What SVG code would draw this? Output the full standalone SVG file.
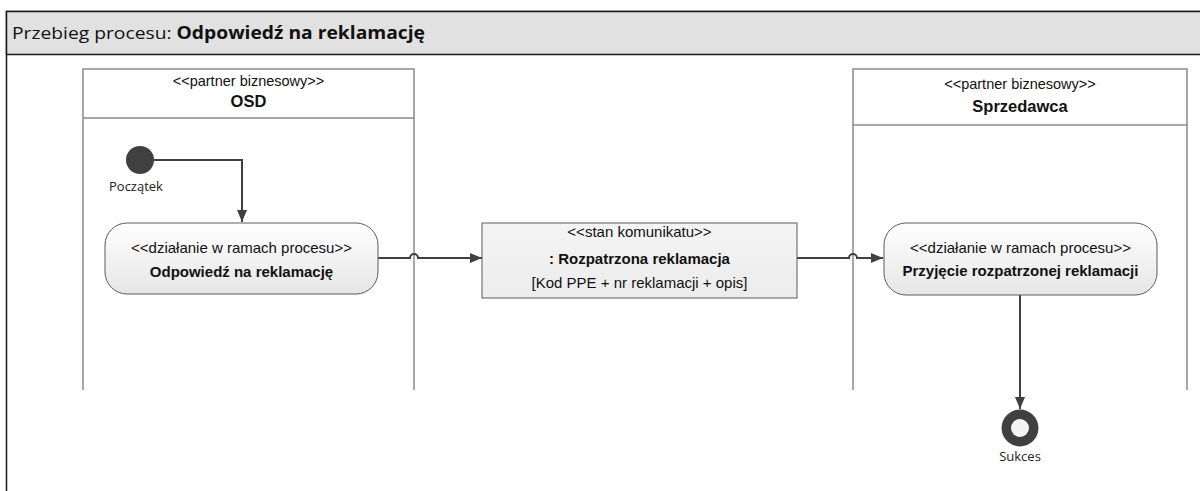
<svg xmlns="http://www.w3.org/2000/svg" width="1200" height="491" viewBox="0 0 1200 491">
<defs>
<linearGradient id="actGrad" x1="0" y1="0" x2="0" y2="1">
<stop offset="0" stop-color="#ffffff"/>
<stop offset="1" stop-color="#e6e6e6"/>
</linearGradient>
<linearGradient id="msgGrad" x1="0" y1="0" x2="0" y2="1">
<stop offset="0" stop-color="#f4f4f4"/>
<stop offset="1" stop-color="#ececec"/>
</linearGradient>
<marker id="arr" viewBox="0 0 12 10" refX="12" refY="5" markerWidth="12" markerHeight="10" markerUnits="userSpaceOnUse" orient="auto">
<path d="M0,0 L12,5 L0,10 Z" fill="#404040"/>
</marker>
<style>
.lane{fill:#ffffff;stroke:#8a8a8a;stroke-width:1.5}
.act{fill:url(#actGrad);stroke:#5a5a5a;stroke-width:1}
.msg{fill:url(#msgGrad);stroke:#5a5a5a;stroke-width:1}
.con{fill:none;stroke:#404040;stroke-width:2}
.t{font-family:"Liberation Sans",Arial,sans-serif;fill:#111;text-anchor:middle}
.b{font-weight:bold}
.lbl{font-family:"Open Sans","Noto Sans",sans-serif;font-size:13px;fill:#222}
</style>
</defs>

<g id="frame">
<rect x="6.5" y="11.5" width="1200" height="500" fill="#ffffff" stroke="#1a1a1a" stroke-width="1.5"/>
<rect x="6.5" y="11.5" width="1200" height="43" fill="#e1e1e1" stroke="#1a1a1a" stroke-width="1.5"/>
<text x="12" y="39" font-family="'Open Sans','Noto Sans',sans-serif" font-size="17" fill="#111" textLength="413" lengthAdjust="spacingAndGlyphs">Przebieg procesu: <tspan font-weight="bold">Odpowiedź na reklamację</tspan></text>
</g>

<g id="lane-osd">
<path class="lane" d="M83,390 L83,69 L414,69 L414,390"/>
<line x1="83" y1="118" x2="414" y2="118" stroke="#8a8a8a" stroke-width="1.5"/>
<text class="t" x="248.5" y="86" font-size="14.5">&lt;&lt;partner biznesowy&gt;&gt;</text>
<text class="t b" x="248.5" y="107" font-size="16.5">OSD</text>
</g>

<g id="lane-sprzedawca">
<path class="lane" d="M853,390 L853,69 L1187,69 L1187,390"/>
<line x1="853" y1="125" x2="1187" y2="125" stroke="#8a8a8a" stroke-width="1.5"/>
<text class="t" x="1020" y="89" font-size="14.5">&lt;&lt;partner biznesowy&gt;&gt;</text>
<text class="t b" x="1020" y="112" font-size="16.5">Sprzedawca</text>
</g>

<g id="connectors">
<path class="con" d="M154,160 L242,160 L242,222" marker-end="url(#arr)"/>
<path class="con" d="M378,258 L410,258 A4,4 0 0 1 418,258 L482,258" marker-end="url(#arr)"/>
<path class="con" d="M797,258 L849,258 A4,4 0 0 1 857,258 L883,258" marker-end="url(#arr)"/>
<path class="con" d="M1020,295 L1020,409" marker-end="url(#arr)"/>
</g>

<g id="start">
<circle cx="140" cy="160" r="14" fill="#404040"/>
<text class="lbl" x="109" y="191">Początek</text>
</g>

<g id="act-odpowiedz">
<rect class="act" x="105" y="223" width="273" height="71" rx="22" ry="22"/>
<text class="t" x="241.5" y="253" font-size="15">&lt;&lt;działanie w ramach procesu&gt;&gt;</text>
<text class="t b" x="241.5" y="277" font-size="15">Odpowiedź na reklamację</text>
</g>

<g id="msg-rozpatrzona">
<rect class="msg" x="482" y="223" width="315" height="75"/>
<text class="t" x="639.5" y="237" font-size="15">&lt;&lt;stan komunikatu&gt;&gt;</text>
<text class="t b" x="639.5" y="264" font-size="15">: Rozpatrzona reklamacja</text>
<text class="t" x="639.5" y="288" font-size="15">[Kod PPE + nr reklamacji + opis]</text>
</g>

<g id="act-przyjecie">
<rect class="act" x="884" y="223" width="273" height="72" rx="22" ry="22"/>
<text class="t" x="1020.5" y="253" font-size="15">&lt;&lt;działanie w ramach procesu&gt;&gt;</text>
<text class="t b" x="1020.5" y="276" font-size="15">Przyjęcie rozpatrzonej reklamacji</text>
</g>

<g id="end">
<circle cx="1020" cy="428" r="18.5" fill="#404040"/>
<circle cx="1020" cy="428" r="9" fill="#f4f4f4"/>
<text class="lbl" x="1020" y="461" text-anchor="middle">Sukces</text>
</g>
</svg>
